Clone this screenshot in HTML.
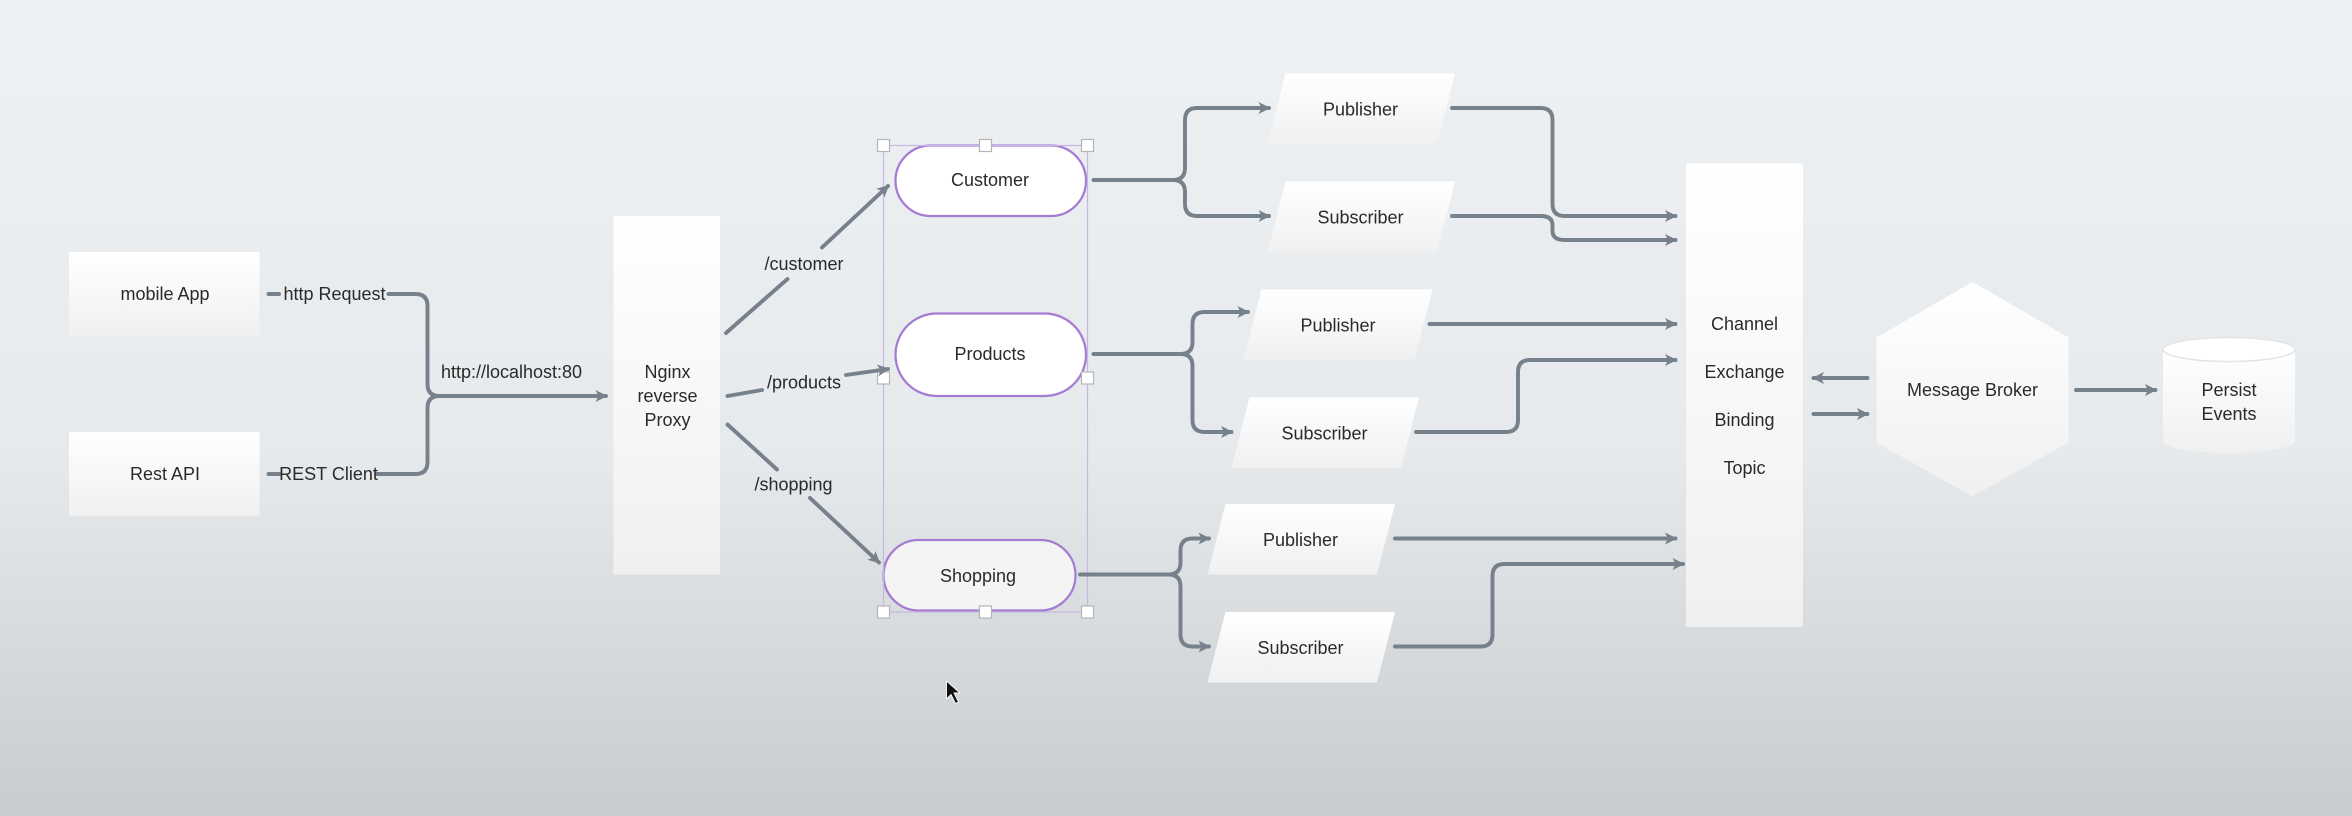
<!DOCTYPE html>
<html><head><meta charset="utf-8"><style>
html,body{margin:0;padding:0;width:2352px;height:816px;overflow:hidden}
body{background:linear-gradient(#eef1f3 0%,#e6eaec 55%,#c8ccce 100%)}
svg{display:block}
text{font-family:"Liberation Sans",sans-serif;font-size:12px;fill:#2a2a2a;text-anchor:middle}
</style></head><body>
<svg width="2352" height="816" viewBox="0 0 1568 544" xmlns="http://www.w3.org/2000/svg">
<defs>
<linearGradient id="g" x1="0" y1="0" x2="0" y2="1"><stop offset="0" stop-color="#ffffff"/><stop offset="1" stop-color="#f0f0f0"/></linearGradient>
<marker id="a" markerWidth="9" markerHeight="9" refX="7" refY="4.5" orient="auto" markerUnits="userSpaceOnUse"><path d="M0,0.5 L8,4.5 L0,8.5 L2,4.5 Z" fill="#77818c"/></marker>
</defs>
<g fill="url(#g)">
<rect x="46" y="168" width="127" height="56"/>
<rect x="46" y="288" width="127" height="56"/>
<rect x="409" y="144" width="71" height="239"/>
<rect x="1124" y="109" width="78" height="309"/>
<polygon points="857,49 970,49 958,97 845,97"/>
<polygon points="857,121 970,121 958,168 845,168"/>
<polygon points="841,193 955,193 943,240 829,240"/>
<polygon points="833,265 946,265 934,312 821,312"/>
<polygon points="817,336 930,336 918,383 805,383"/>
<polygon points="817,408 930,408 918,455 805,455"/>
<polygon points="1315,188 1379,225 1379,295 1315,331 1251,295 1251,225"/>
<path d="M1442,233 L1442,294 A44,8 0 0 0 1530,294 L1530,233 Z"/>
</g>
<ellipse cx="1486" cy="233" rx="44" ry="8" fill="#fff" stroke="#e4e4e4"/>
<g fill="#fff" stroke="#a47cd2" stroke-width="1.5">
<rect x="597" y="97" width="127" height="47" rx="23.5"/>
<rect x="597" y="209" width="127" height="55" rx="27.5"/>
<rect x="589" y="360" width="128" height="47" rx="23.5" fill="#f4f4f4"/>
</g>
<rect x="589" y="97" width="136" height="311" fill="none" stroke="#c7b8e2" stroke-width="0.8"/>
<g fill="#fff" stroke="#b5b5b5" stroke-width="0.8">
<rect x="585" y="93" width="8" height="8"/><rect x="653" y="93" width="8" height="8"/><rect x="721" y="93" width="8" height="8"/>
<rect x="585" y="248" width="8" height="8"/><rect x="721" y="248" width="8" height="8"/>
<rect x="585" y="404" width="8" height="8"/><rect x="653" y="404" width="8" height="8"/><rect x="721" y="404" width="8" height="8"/>
</g>
<g fill="none" stroke="#77818c" stroke-width="2.6" stroke-linecap="round">
<path d="M179,196 L186,196"/><path d="M179,316 L186,316"/>
<path d="M259,196 L277,196 Q285,196 285,204 L285,256 Q285,264 293,264 L404,264" marker-end="url(#a)"/>
<path d="M251,316 L277,316 Q285,316 285,308 L285,272 Q285,264 293,264"/>
<path d="M484,222 L525,186"/><path d="M548,165 L592,124" marker-end="url(#a)"/>
<path d="M485,264 L508,260"/><path d="M564,250 L592,246" marker-end="url(#a)"/>
<path d="M485,283 L518,313"/><path d="M540,332 L586,375" marker-end="url(#a)"/>
<path d="M729,120 L782,120 Q790,120 790,112 L790,80 Q790,72 798,72 L846,72" marker-end="url(#a)"/>
<path d="M782,120 Q790,120 790,128 L790,136 Q790,144 798,144 L846,144" marker-end="url(#a)"/>
<path d="M729,236 L787,236 Q795,236 795,228 L795,216 Q795,208 803,208 L832,208" marker-end="url(#a)"/>
<path d="M787,236 Q795,236 795,244 L795,280 Q795,288 803,288 L821,288" marker-end="url(#a)"/>
<path d="M720,383 L779,383 Q787,383 787,375 L787,367 Q787,359 795,359 L806,359" marker-end="url(#a)"/>
<path d="M779,383 Q787,383 787,391 L787,423 Q787,431 795,431 L806,431" marker-end="url(#a)"/>
<path d="M968,72 L1027,72 Q1035,72 1035,80 L1035,136 Q1035,144 1043,144 L1117,144" marker-end="url(#a)"/>
<path d="M968,144 L1027,144 Q1035,144 1035,150 L1035,154 Q1035,160 1043,160 L1117,160" marker-end="url(#a)"/>
<path d="M953,216 L1117,216" marker-end="url(#a)"/>
<path d="M944,288 L1004,288 Q1012,288 1012,280 L1012,248 Q1012,240 1020,240 L1117,240" marker-end="url(#a)"/>
<path d="M930,359 L1117,359" marker-end="url(#a)"/>
<path d="M930,431 L987,431 Q995,431 995,423 L995,384 Q995,376 1003,376 L1122,376" marker-end="url(#a)"/>
<path d="M1245,252 L1209,252" marker-end="url(#a)"/>
<path d="M1209,276 L1245,276" marker-end="url(#a)"/>
<path d="M1384,260 L1437,260" marker-end="url(#a)"/>
</g>
<text x="110" y="200">mobile App</text>
<text x="110" y="320">Rest API</text>
<text x="223" y="200">http Request</text>
<text x="219" y="320">REST Client</text>
<text x="341" y="252">http://localhost:80</text>
<text x="445" y="252">Nginx</text><text x="445" y="268">reverse</text><text x="445" y="284">Proxy</text>
<text x="536" y="180">/customer</text>
<text x="536" y="259">/products</text>
<text x="529" y="327">/shopping</text>
<text x="660" y="124">Customer</text>
<text x="660" y="240">Products</text>
<text x="652" y="388">Shopping</text>
<text x="907" y="77">Publisher</text>
<text x="907" y="149">Subscriber</text>
<text x="892" y="221">Publisher</text>
<text x="883" y="293">Subscriber</text>
<text x="867" y="364">Publisher</text>
<text x="867" y="436">Subscriber</text>
<text x="1163" y="220">Channel</text>
<text x="1163" y="252">Exchange</text>
<text x="1163" y="284">Binding</text>
<text x="1163" y="316">Topic</text>
<text x="1315" y="264">Message Broker</text>
<text x="1486" y="264">Persist</text><text x="1486" y="280">Events</text>
<path d="M631,454 L631,466 L634,463 L637,469 L639,468 L636,462 L640,462 Z" fill="#111" stroke="#fff" stroke-width="0.6"/>
</svg>
</body></html>
